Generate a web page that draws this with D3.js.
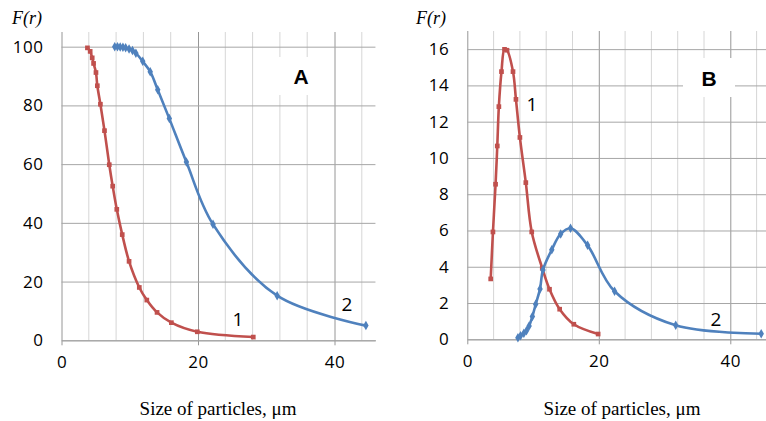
<!DOCTYPE html>
<html>
<head>
<meta charset="utf-8">
<script src="https://cdn.jsdelivr.net/npm/d3@7"></script>
<style>
    body { margin: 0; background: #fff; }
    .serif { font-family: "Liberation Serif", "Times New Roman", serif; }
</style>
</head>
<body>
<div class="graph"></div>
<script>
// Panel A - cumulative distribution F(r), %
const xA1 = [3.8, 4.2, 4.5, 4.7, 5.05, 5.25, 5.7, 6.3, 7.0, 7.5, 8.1, 8.9, 9.9, 11.4, 12.5, 14.0, 16.1, 19.9, 28.1];
const yA1 = [99.6, 98.4, 96.2, 94.3, 91.2, 86.7, 80.4, 71.4, 59.8, 52.5, 44.6, 36.0, 26.9, 18.0, 13.7, 9.5, 6.0, 2.9, 1.1];
const xA2 = [7.8, 8.2, 8.6, 9.0, 9.4, 9.9, 10.4, 10.9, 11.9, 13.0, 14.1, 15.8, 18.3, 22.2, 31.6, 44.6];
const yA2 = [100, 100, 99.9, 99.8, 99.6, 99.2, 98.7, 97.8, 95.0, 91.5, 85.3, 75.5, 60.7, 39.5, 15.2, 5.0];

// Panel B - density F(r)
const xB1 = [3.56, 3.9, 4.3, 4.56, 4.8, 5.2, 5.66, 6.04, 6.95, 7.4, 8.0, 8.9, 9.8, 11.4, 12.5, 14.05, 16.2, 19.9];
const yB1 = [3.33, 5.92, 8.55, 10.66, 12.83, 14.76, 15.99, 15.94, 14.76, 13.23, 11.13, 8.64, 5.92, 3.92, 2.76, 1.66, 0.83, 0.29];
const xB2 = [7.7, 8.1, 8.6, 9.0, 9.4, 9.9, 10.4, 11.06, 11.5, 12.85, 14.2, 15.7, 18.3, 22.4, 31.7, 44.7];
const yB2 = [0.09, 0.2, 0.33, 0.47, 0.73, 1.26, 1.93, 2.78, 3.82, 4.94, 5.81, 6.12, 5.18, 2.65, 0.77, 0.31];

const xTicks = [0, 20, 40];
const yTicksA = [0, 20, 40, 60, 80, 100];
const yTicksB = [0, 2, 4, 6, 8, 10, 12, 14, 16];

const red = "#c0504d";
const blue = "#4f81bd";

const svg = d3.select(".graph")
    .append("svg")
        .attr("width", 766)
        .attr("height", 421);

function styleTicks(axisG) {
    axisG.attr("font-size", null).attr("font-family", null);
    axisG.selectAll(".tick text")
        .style("font-family", "'Open Sans', sans-serif")
        .style("font-size", "17px")
        .style("letter-spacing", "0.5px")
        .attr("fill", "#000");
}

function drawPanel(p) {
    const x = d3.scaleLinear().domain([0, 46]).range([p.left, p.left + p.pxPerUnit * 46]);
    const y = d3.scaleLinear().domain([0, p.yMax]).range([p.bottom, p.top]);
    const g = svg.append("g");

    // minor vertical gridlines every 4
    g.append("g")
        .selectAll("line")
        .data(d3.range(4, 46, 4).filter(v => v % 20 !== 0))
        .join("line")
            .attr("x1", d => x(d)).attr("x2", d => x(d))
            .attr("y1", p.top).attr("y2", p.bottom)
            .attr("stroke", "#d6d6d6");

    // major vertical gridlines + ticks below
    const xAxis = g.append("g")
        .attr("transform", `translate(0,${p.bottom})`)
        .call(d3.axisBottom(x).tickValues(xTicks).tickSizeInner(5).tickSizeOuter(0).tickPadding(11).tickFormat(d3.format("d")));
    xAxis.select(".domain").attr("stroke", "#969696");
    xAxis.selectAll(".tick line")
        .attr("y1", -(p.bottom - p.top))
        .attr("stroke", "#969696");
    styleTicks(xAxis);

    // horizontal gridlines + ticks to the left
    const yAxis = g.append("g")
        .attr("transform", `translate(${p.left},0)`)
        .call(d3.axisLeft(y).tickValues(p.yTicks).tickSizeInner(8).tickSizeOuter(0).tickPadding(10));
    yAxis.select(".domain").remove();
    yAxis.selectAll(".tick line")
        .attr("x2", x(46) - p.left)
        .attr("stroke", "#a6a6a6");
    styleTicks(yAxis);

    // white label box with panel letter
    g.append("rect")
        .attr("x", p.box[0]).attr("y", p.box[1])
        .attr("width", p.box[2]).attr("height", p.box[3])
        .attr("fill", "#fff");
    g.append("text")
        .attr("x", p.box[0] + p.box[2] / 2)
        .attr("y", p.box[1] + p.box[3] / 2 + 8)
        .attr("text-anchor", "middle")
        .style("font-family", "'Liberation Sans', Arial, sans-serif")
        .style("font-weight", "bold")
        .style("font-size", "21px")
        .text(p.letter);

    const line = d3.line()
        .x(d => x(d[0]))
        .y(d => y(d[1]))
        .curve(d3.curveCatmullRom.alpha(0.5));

    p.series.forEach(s => {
        const pts = s.xs.map((v, i) => [v, s.ys[i]]);
        g.append("path")
            .attr("d", line(pts))
            .attr("fill", "none")
            .attr("stroke", s.color)
            .attr("stroke-width", 2.6);
        g.append("g")
            .selectAll("path")
            .data(pts)
            .join("path")
                .attr("transform", d => `translate(${x(d[0])},${y(d[1])})`)
                .attr("d", d3.symbol(s.square ? d3.symbolSquare : d3.symbolDiamond, s.square ? 22 : 26)())
                .attr("fill", s.color);
    });

    // series numbers
    p.labels.forEach(l => {
        g.append("text")
            .attr("x", l[0]).attr("y", l[1])
            .attr("text-anchor", "middle")
            .style("font-family", "'Open Sans', sans-serif")
            .style("font-size", "19px")
            .text(l[2]);
    });

    // F(r)
    g.append("text")
        .attr("class", "serif")
        .attr("x", p.fx).attr("y", 24)
        .style("font-style", "italic")
        .style("font-size", "18px")
        .text("F(r)");

    // x title
    g.append("text")
        .attr("class", "serif")
        .attr("x", p.titleX).attr("y", 415)
        .attr("text-anchor", "middle")
        .style("font-size", "19px")
        .text("Size of particles, μm");
}

drawPanel({
    left: 61.5, pxPerUnit: 6.825, top: 32, bottom: 340.3, yMax: 105,
    yTicks: yTicksA, letter: "A", box: [268, 57, 66, 38],
    series: [
        { xs: xA1, ys: yA1, color: red, square: true },
        { xs: xA2, ys: yA2, color: blue, square: false }
    ],
    labels: [[238, 326, "1"], [347, 311, "2"]],
    fx: 12, titleX: 218
});

drawPanel({
    left: 467.3, pxPerUnit: 6.575, top: 31, bottom: 339.3, yMax: 17,
    yTicks: yTicksB, letter: "B", box: [683, 58, 52, 39],
    series: [
        { xs: xB1, ys: yB1, color: red, square: true },
        { xs: xB2, ys: yB2, color: blue, square: false }
    ],
    labels: [[532, 111, "1"], [716, 326, "2"]],
    fx: 416, titleX: 622
});
</script>
</body>
</html>
